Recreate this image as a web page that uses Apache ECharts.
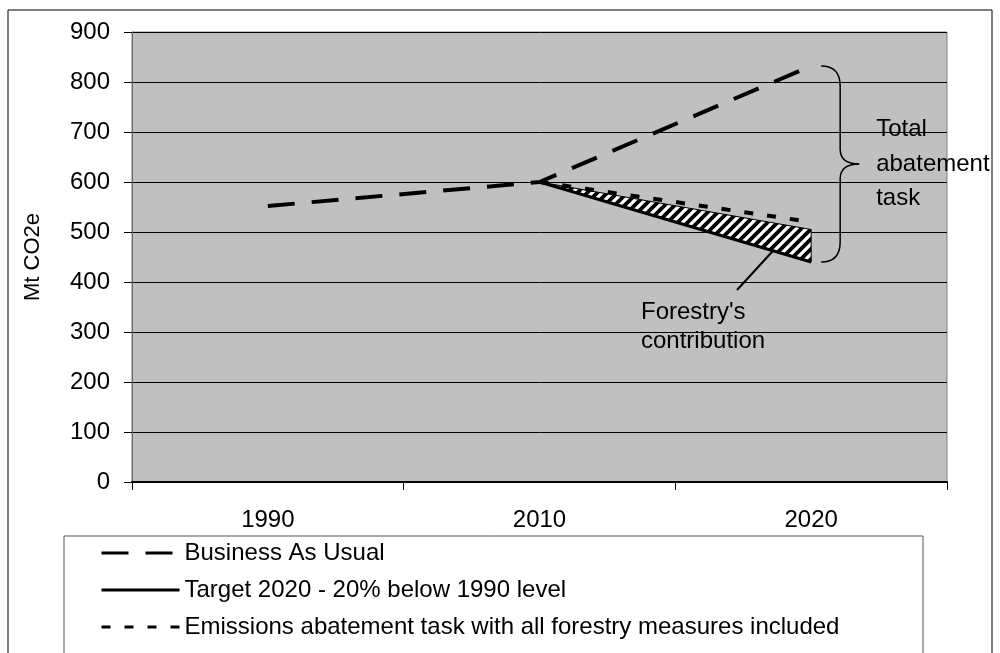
<!DOCTYPE html>
<html>
<head>
<meta charset="utf-8">
<script src="https://cdn.jsdelivr.net/npm/echarts@6/dist/echarts.min.js"></script>
<style>
  html, body { margin: 0; padding: 0; background: #fff; }
  #chart { width: 1000px; height: 653px; }
</style>
</head>
<body>
<div id="chart"></div>
<script>
// data
var years = ['1990', '2010', '2020'];
var yTicks = [0, 100, 200, 300, 400, 500, 600, 700, 800, 900];
var bau = [552, 600, 832];            // Business As Usual
var target = ['-', 600, 440];         // Target 2020 - 20% below 1990 level
var withForestry = ['-', 600, 520];   // abatement task with forestry measures
var hatchTop = ['-', 600, 505];       // top edge of the hatched wedge (forestry's contribution)

var names = [
  'Business As Usual',
  'Target 2020 - 20% below 1990 level',
  'Emissions abatement task with all forestry measures included'
];

var FONT = '"Liberation Sans", Arial, sans-serif';

// diagonal hatch pattern
var pat = document.createElement('canvas');
pat.width = 10; pat.height = 10;
var g = pat.getContext('2d');
g.fillStyle = '#fff';
g.fillRect(0, 0, 10, 10);
g.strokeStyle = '#000';
g.lineWidth = 3.8;
g.beginPath();
g.moveTo(-2, 12); g.lineTo(12, -2);
g.moveTo(-7, 7); g.lineTo(7, -7);
g.moveTo(3, 17); g.lineTo(17, 3);
g.stroke();

var hatchIdx = [1, 2];

var chart = echarts.init(document.getElementById('chart'), null, { renderer: 'canvas' });

var option = {
  animation: false,
  backgroundColor: '#fff',
  grid: {
    left: 132, top: 32, width: 815, height: 450,
    show: true, backgroundColor: '#c0c0c0', borderColor: '#808080', borderWidth: 1,
    containLabel: false, outerBoundsMode: 'none'
  },
  legend: {
    orient: 'vertical',
    left: 64, top: 536,
    padding: [5, 0, 0, 36],
    itemWidth: 78, itemHeight: 22, itemGap: 13,
    itemStyle: { opacity: 0 },
    lineStyle: { width: 3 },
    textStyle: { fontFamily: FONT, fontSize: 24, color: '#000', lineHeight: 22 },
    data: names
  },
  xAxis: {
    type: 'category',
    data: years,
    boundaryGap: true,
    axisLine: { lineStyle: { color: '#000', width: 2 } },
    axisTick: { show: true, length: 8, lineStyle: { color: '#000', width: 1 } },
    axisLabel: { margin: 26, fontFamily: FONT, fontSize: 24, color: '#000' },
    splitLine: { show: false }
  },
  yAxis: {
    type: 'value',
    min: yTicks[0], max: yTicks[yTicks.length - 1], interval: 100,
    name: 'Mt CO2e',
    nameLocation: 'middle',
    nameRotate: 90,
    nameGap: 88,
    nameTextStyle: { fontFamily: FONT, fontSize: 22, color: '#000' },
    axisLine: { show: true, lineStyle: { color: '#666', width: 1 } },
    axisTick: { show: true, length: 8, lineStyle: { color: '#000' } },
    axisLabel: { margin: 22, fontFamily: FONT, fontSize: 24, color: '#000' },
    splitLine: { show: true, lineStyle: { color: '#000', width: 1 } }
  },
  series: [
    {
      name: 'hatch',
      type: 'custom',
      data: hatchIdx.map(function (i) { return [i, hatchTop[i], target[i]]; }),
      encode: { x: 0, y: [1, 2] },
      renderItem: function (params, api) {
        if (params.dataIndex !== 0) return;
        var top = hatchIdx.map(function (i) { return api.coord([i, hatchTop[i]]); });
        var bot = hatchIdx.map(function (i) { return api.coord([i, target[i]]); }).reverse();
        return {
          type: 'polygon',
          shape: { points: top.concat(bot) },
          style: { fill: { image: pat, repeat: 'repeat' }, stroke: '#000', lineWidth: 1 }
        };
      }
    },
    {
      name: names[0], type: 'line', data: bau, symbol: 'none',
      lineStyle: { color: '#000', width: 4, type: [27, 17] },
      itemStyle: { color: '#000' }
    },
    {
      name: names[1], type: 'line', data: target, symbol: 'none',
      lineStyle: { color: '#000', width: 3 },
      itemStyle: { color: '#000' }
    },
    {
      name: names[2], type: 'line', data: withForestry, symbol: 'none',
      lineStyle: { color: '#000', width: 4, type: [9, 14] },
      itemStyle: { color: '#000' }
    }
  ]
};

chart.setOption(option);

// annotations: brace, labels, arrow, frames
var pTop = chart.convertToPixel({ gridIndex: 0 }, [2, bau[2]]);
var pBot = chart.convertToPixel({ gridIndex: 0 }, [2, target[2]]);
var xL = pTop[0] + 10, yT = pTop[1], yB = pBot[1];
var xv = xL + 19, tip = xL + 38, ym = (yT + yB) / 2;
var r = 20, r2 = 15;
var br = { stroke: '#000', lineWidth: 1.5, fill: null };

function txt(s, x, y, size) {
  return { type: 'text', x: x, y: y, style: { text: s, font: size + 'px ' + FONT, fill: '#000', verticalAlign: 'middle' } };
}

chart.setOption({
  graphic: [
    { type: 'rect', shape: { x: 8, y: 10, width: 984, height: 700 }, style: { fill: null, stroke: '#000', lineWidth: 1 }, silent: true },
    { type: 'rect', shape: { x: 64, y: 536, width: 859, height: 200 }, style: { fill: null, stroke: '#555', lineWidth: 1 }, silent: true },
    { type: 'bezierCurve', shape: { x1: xL, y1: yT, cpx1: xv, cpy1: yT, x2: xv, y2: yT + r }, style: br },
    { type: 'line', shape: { x1: xv, y1: yT + r, x2: xv, y2: ym - r2 }, style: br },
    { type: 'bezierCurve', shape: { x1: xv, y1: ym - r2, cpx1: xv, cpy1: ym, x2: tip, y2: ym }, style: br },
    { type: 'bezierCurve', shape: { x1: tip, y1: ym, cpx1: xv, cpy1: ym, x2: xv, y2: ym + r2 }, style: br },
    { type: 'line', shape: { x1: xv, y1: ym + r2, x2: xv, y2: yB - r }, style: br },
    { type: 'bezierCurve', shape: { x1: xv, y1: yB - r, cpx1: xv, cpy1: yB, x2: xL, y2: yB }, style: br },
    txt('Total', tip + 17, ym - 35, 24),
    txt('abatement', tip + 17, ym, 24),
    txt('task', tip + 17, ym + 34, 24),
    txt("Forestry's", 641, 312, 24),
    txt('contribution', 641, 341, 24),
    { type: 'line', shape: { x1: 737, y1: 290, x2: 782, y2: 241 }, style: { stroke: '#000', lineWidth: 2 } },
    { type: 'polygon', shape: { points: [[787, 235], [777, 240], [784, 247]] }, style: { fill: '#000' } }
  ]
});
</script>
</body>
</html>
